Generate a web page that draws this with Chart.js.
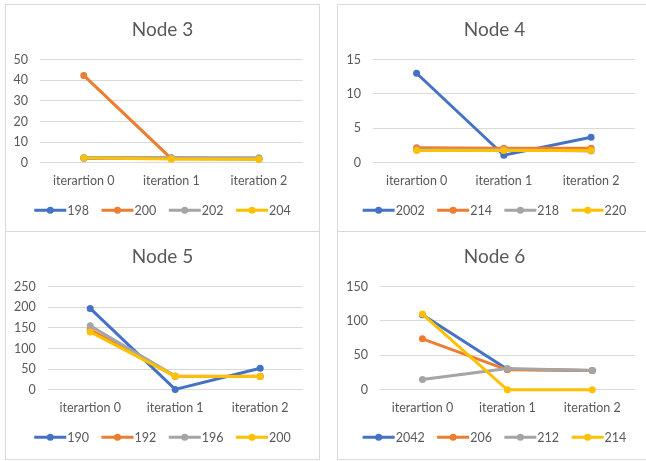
<!DOCTYPE html>
<html>
<head>
<meta charset="utf-8">
<script src="https://cdn.jsdelivr.net/npm/chart.js@4.4.1/dist/chart.umd.min.js"></script>
<style>
  html, body { margin: 0; padding: 0; background: #fff; overflow: hidden; width: 646px; height: 461px; }
  .panel { position: absolute; box-sizing: border-box; border: 1px solid #d9d9d9; background: #fff; overflow: hidden; }
  .panel canvas { display: block; }
</style>
</head>
<body>
<div class="panel" style="left:5px;top:4px;width:315px;height:228px"><canvas id="node3" width="313" height="226"></canvas></div>
<div class="panel" style="left:337px;top:4px;width:315px;height:228px"><canvas id="node4" width="313" height="226"></canvas></div>
<div class="panel" style="left:5px;top:231px;width:315px;height:229px"><canvas id="node5" width="313" height="227"></canvas></div>
<div class="panel" style="left:337px;top:231px;width:315px;height:229px"><canvas id="node6" width="313" height="227"></canvas></div>
<script>
// Shared x categories
const categories = ['iterartion 0', 'iteration 1', 'iteration 2'];

// Node 3
const node3Series = ['198', '200', '202', '204'];
const node3Values = [
  [2.2, 2.2, 2.0],
  [42.3, 2.0, 1.8],
  [2.6, 2.6, 2.4],
  [2.3, 1.8, 1.7]
];
const node3Ticks = [0, 10, 20, 30, 40, 50];

// Node 4
const node4Series = ['2002', '214', '218', '220'];
const node4Values = [
  [13.0, 1.1, 3.7],
  [2.2, 2.1, 2.1],
  [1.9, 1.9, 1.7],
  [1.8, 1.8, 1.8]
];
const node4Ticks = [0, 5, 10, 15];

// Node 5
const node5Series = ['190', '192', '196', '200'];
const node5Values = [
  [197, 1, 52],
  [145, 33, 33],
  [155, 33, 32],
  [140, 33, 32]
];
const node5Ticks = [0, 50, 100, 150, 200, 250];

// Node 6
const node6Series = ['2042', '206', '212', '214'];
const node6Values = [
  [109, 30, 28],
  [74, 29, 28],
  [15, 31, 28],
  [110, 0, 0]
];
const node6Ticks = [0, 50, 100, 150];

const seriesColors = ['#4472C4', '#ED7D31', '#A5A5A5', '#FFC000'];
const textColor = '#595959';
const fontFamily = 'Lato, "Open Sans", sans-serif';

// Title above the plot and line+marker legend below it
const panelDecor = {
  id: 'panelDecor',
  afterDraw(chart, args, opts) {
    const ctx = chart.ctx;
    const w = chart.width;
    ctx.save();
    ctx.fillStyle = textColor;
    ctx.font = '19px ' + fontFamily;
    ctx.textAlign = 'center';
    ctx.textBaseline = 'middle';
    ctx.fillText(opts.title, w / 2, opts.titleY);

    ctx.font = '12.5px ' + fontFamily;
    const lineLen = 32, gap = 1, itemGap = 12.5;
    const items = chart.data.datasets.map(ds => ({ ds, tw: ctx.measureText(ds.label).width }));
    const total = items.reduce((s, it) => s + lineLen + gap + it.tw, 0) + itemGap * (items.length - 1);
    let x = w / 2 - total / 2;
    const y = opts.legendY;
    items.forEach(it => {
      const c = it.ds.borderColor;
      ctx.strokeStyle = c;
      ctx.lineWidth = 3;
      ctx.beginPath();
      ctx.moveTo(x, y);
      ctx.lineTo(x + lineLen, y);
      ctx.stroke();
      ctx.fillStyle = c;
      ctx.beginPath();
      ctx.arc(x + lineLen / 2, y, 3.5, 0, Math.PI * 2);
      ctx.fill();
      ctx.fillStyle = textColor;
      ctx.textAlign = 'left';
      ctx.fillText(it.ds.label, x + lineLen + gap, y + 0.5);
      x += lineLen + gap + it.tw + itemGap;
    });
    ctx.restore();
  }
};

function drawNode(id, title, series, values, ticks, axisWidth) {
  const canvas = document.getElementById(id);
  const H = canvas.height;
  const plotBottom = 157.8;
  const xAxisHeight = 30;
  const datasets = series.map((name, i) => ({
    label: name,
    data: values[i],
    borderColor: seriesColors[i],
    backgroundColor: seriesColors[i],
    borderWidth: 3,
    pointRadius: 3.5,
    pointBorderWidth: 0,
    pointHoverRadius: 3.5,
    tension: 0,
    clip: false,
    order: series.length - 1 - i
  }));
  new Chart(canvas, {
    type: 'line',
    data: { labels: categories, datasets },
    options: {
      responsive: false,
      animation: false,
      devicePixelRatio: 1,
      layout: {
        padding: { top: 54.5, left: 0, right: 16.3, bottom: H - plotBottom - xAxisHeight }
      },
      plugins: {
        legend: { display: false },
        title: { display: false },
        tooltip: { enabled: false },
        panelDecor: { title, titleY: 24.5, legendY: 205.3 }
      },
      scales: {
        x: {
          offset: true,
          grid: { display: false, drawTicks: false },
          border: { display: false },
          ticks: { color: textColor, font: { family: fontFamily, size: 12.5 }, padding: 11, maxRotation: 0 },
          afterFit(s) { s.height = xAxisHeight; }
        },
        y: {
          min: ticks[0],
          max: ticks[ticks.length - 1],
          ticks: {
            stepSize: ticks[1] - ticks[0],
            color: textColor,
            font: { family: fontFamily, size: 12.5 },
            padding: 12
          },
          grid: { color: '#d9d9d9', lineWidth: 1, drawTicks: false },
          border: { display: false },
          afterFit(s) { s.width = axisWidth; }
        }
      }
    },
    plugins: [panelDecor]
  });
}

drawNode('node3', 'Node 3', node3Series, node3Values, node3Ticks, 34);
drawNode('node4', 'Node 4', node4Series, node4Values, node4Ticks, 35);
drawNode('node5', 'Node 5', node5Series, node5Values, node5Ticks, 41.7);
drawNode('node6', 'Node 6', node6Series, node6Values, node6Ticks, 42);
</script>
</body>
</html>
